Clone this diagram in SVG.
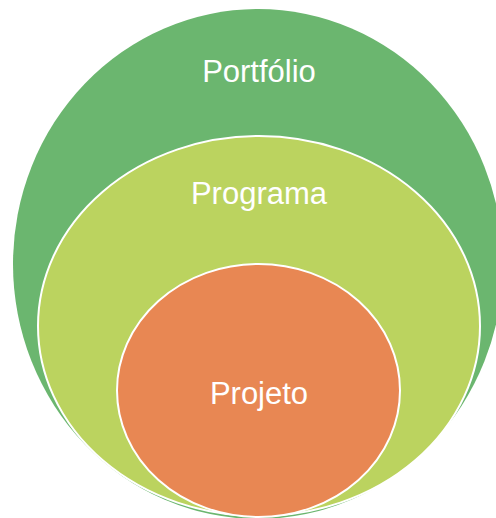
<svg xmlns="http://www.w3.org/2000/svg" width="496" height="518" viewBox="0 0 496 518">
<style>
.lbl{font-family:"Liberation Sans","DejaVu Sans",sans-serif;font-size:31px;fill:#ffffff;text-anchor:middle}
.sh{stroke:#ffffff;stroke-width:2}
</style>
<rect width="496" height="518" fill="#ffffff"/>
<g id="portfolio">
<ellipse cx="258" cy="264" rx="245" ry="255" fill="#6BB66F"/>
<text class="lbl" x="259" y="82">Portfólio</text>
</g>
<g id="programa">
<ellipse class="sh" cx="259" cy="326" rx="221" ry="190" fill="#BBD35F"/>
<text class="lbl" x="259" y="204">Programa</text>
</g>
<g id="projeto">
<ellipse class="sh" cx="258.5" cy="390.5" rx="141.5" ry="126.5" fill="#E88753"/>
<text class="lbl" x="259" y="404">Projeto</text>
</g>
<g id="connectors"/>
</svg>
